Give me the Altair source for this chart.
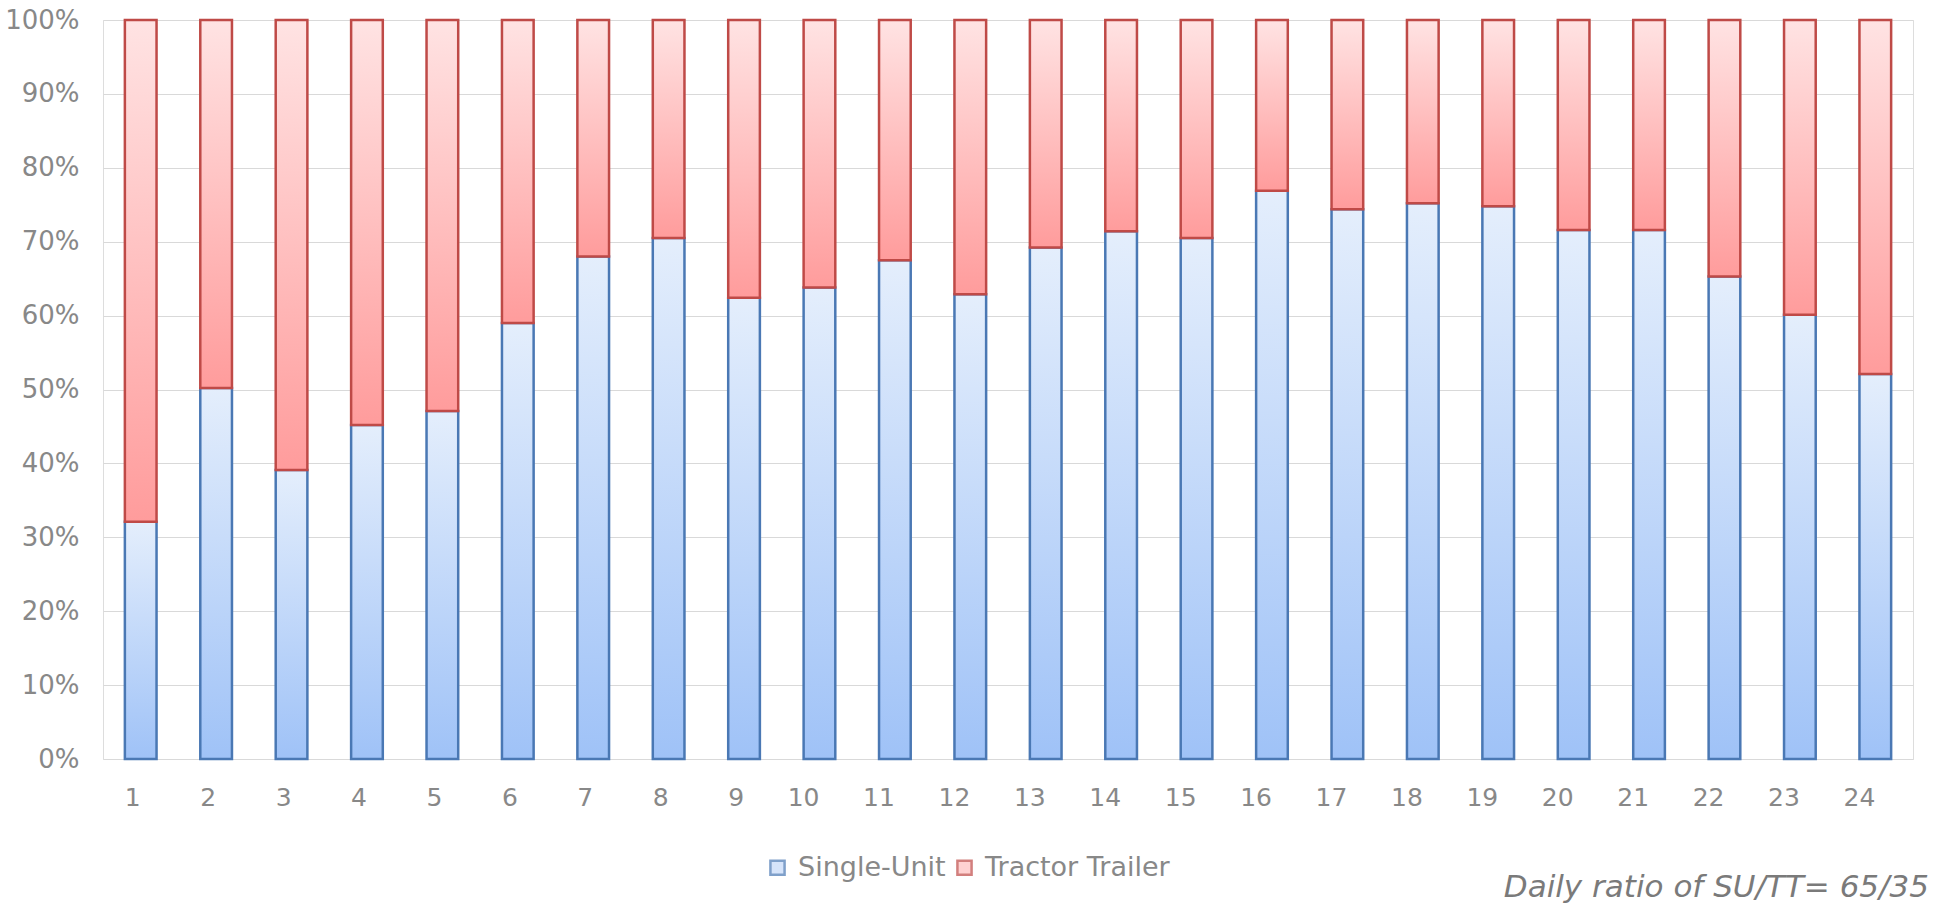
import altair as alt
import pandas as pd

hours = [str(h) for h in range(1, 25)]
single_unit = [32.1, 50.2, 39.1, 45.2, 47.1, 59.0, 68.0, 70.5, 62.4, 63.8, 67.5, 62.9,
               69.2, 71.4, 70.5, 76.9, 74.4, 75.2, 74.8, 71.6, 71.6, 65.3, 60.1, 52.1]
series = ["Single-Unit", "Tractor Trailer"]
annotation = "Daily ratio of SU/TT= 65/35"
y_ticks = [0, 10, 20, 30, 40, 50, 60, 70, 80, 90, 100]

rows = []
for h, su in zip(hours, single_unit):
    rows.append({"hour": h, "type": series[0], "start": 0, "end": su})
    rows.append({"hour": h, "type": series[1], "start": su, "end": 100})
df = pd.DataFrame(rows)

FONT = "DejaVu Sans"
LABEL = "#888888"

x_enc = alt.X("hour:O", sort=hours,
              scale=alt.Scale(paddingInner=0.58, paddingOuter=0.29),
              axis=alt.Axis(title=None, labelAngle=0, ticks=False, domain=False,
                            labelFont=FONT, labelFontSize=25, labelColor=LABEL,
                            labelPadding=38, grid=False))
y_enc = alt.Y("end:Q", scale=alt.Scale(domain=[0, 100], nice=False),
              axis=alt.Axis(title=None, values=y_ticks, labelExpr="datum.value + '%'",
                            ticks=False, domain=False, labelFont=FONT, labelFontSize=26,
                            labelColor=LABEL, labelPadding=24, gridColor="#d9d9d9",
                            gridWidth=1.2))

blue_grad = alt.Gradient(gradient="linear", x1=0, x2=0, y1=0, y2=1,
                         stops=[alt.GradientStop(color="#e4eefc", offset=0),
                                alt.GradientStop(color="#9fc2f7", offset=1)])
red_grad = alt.Gradient(gradient="linear", x1=0, x2=0, y1=0, y2=1,
                        stops=[alt.GradientStop(color="#ffe3e3", offset=0),
                               alt.GradientStop(color="#ff9c9c", offset=1)])

base = alt.Chart(df)

legend_layer = alt.Chart(pd.DataFrame({"hour": ["1", "1"], "type": series, "end": [5, 5]})).mark_square(size=1).encode(
    x=alt.X("hour:O", sort=hours),
    y=alt.Y("end:Q"),
    fill=alt.Fill("type:N", scale=alt.Scale(domain=series, range=["#c6daf8", "#ffc0c0"]),
                  legend=alt.Legend(title=None, orient="none", direction="horizontal",
                                    legendX=661, legendY=834, labelFont=FONT,
                                    labelFontSize=27, labelColor=LABEL, symbolType="square",
                                    symbolSize=200, symbolStrokeWidth=2.5, labelOffset=7,
                                    columnPadding=5, padding=0, labelLimit=400)),
    stroke=alt.Stroke("type:N", scale=alt.Scale(domain=series, range=["#4a78b4", "#bf4a47"]),
                      legend=None),
)

su_layer = base.transform_filter(alt.datum.type == series[0]).mark_bar(
    fill=blue_grad, stroke="#4a78b4", strokeWidth=2.5).encode(
    x=x_enc, y=y_enc, y2="start:Q")

tt_layer = base.transform_filter(alt.datum.type == series[1]).mark_bar(
    fill=red_grad, stroke="#bf4a47", strokeWidth=2.5).encode(
    x=x_enc, y=y_enc, y2="start:Q")

note = alt.Chart(pd.DataFrame({"t": [annotation]})).mark_text(
    align="right", baseline="alphabetic", font=FONT, fontSize=31, fontStyle="italic",
    color="#7a7a7a").encode(x=alt.value(1826), y=alt.value(877), text="t:N")

chart = alt.layer(legend_layer, su_layer, tt_layer, note).properties(
    width=1810, height=739,
    autosize=alt.AutoSizeParams(type="none"),
    padding={"left": 103, "top": 20, "right": 25, "bottom": 146},
).configure_view(stroke=None).configure(background="white")

chart.save("out.html", embed_options={"renderer": "svg", "actions": False})
